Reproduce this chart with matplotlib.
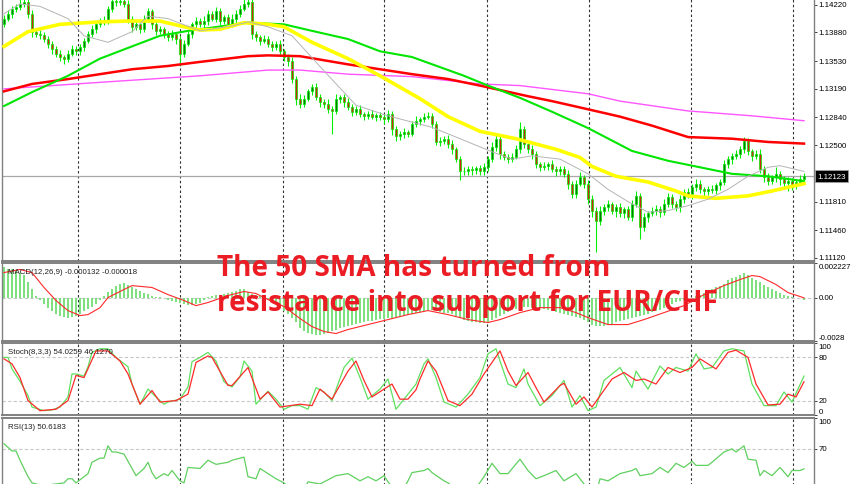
import numpy as np
import matplotlib
matplotlib.use("Agg")
import matplotlib.pyplot as plt

# ---------------- data (one candle per bar, 201 bars) ----------------
closes = [
    1.1405, 1.1411, 1.1417, 1.1419, 1.1423, 1.1425, 1.1411, 1.1389, 1.1386, 1.1385,
    1.1380, 1.1374, 1.1368, 1.1362, 1.1358, 1.1356, 1.1362, 1.1368, 1.1365, 1.1370,
    1.1378, 1.1386, 1.1392, 1.1398, 1.1402, 1.1401, 1.1417, 1.1427, 1.1425, 1.1427,
    1.1423, 1.1405, 1.1395, 1.1398, 1.1392, 1.1405, 1.1414, 1.1398, 1.1390, 1.1392,
    1.1386, 1.1382, 1.1386, 1.1380, 1.1362, 1.1374, 1.1386, 1.1398, 1.1402, 1.1398,
    1.1402, 1.1411, 1.1405, 1.1414, 1.1402, 1.1407, 1.1398, 1.1405, 1.1411, 1.1417,
    1.1423, 1.1425, 1.1386, 1.1382, 1.1378, 1.1380, 1.1374, 1.1370, 1.1374, 1.1365,
    1.1358, 1.1353, 1.1331, 1.1307, 1.1301, 1.1307, 1.1316, 1.1321, 1.1309, 1.1303,
    1.1301, 1.1294, 1.1292, 1.1307, 1.1309, 1.1303, 1.1297, 1.1291, 1.1294, 1.1288,
    1.1286, 1.1288, 1.1285, 1.1287, 1.1285, 1.1282, 1.1288, 1.1270, 1.1261, 1.1264,
    1.1266, 1.1264, 1.1276, 1.1280, 1.1282, 1.1285, 1.1286, 1.1276, 1.1254, 1.1255,
    1.1258, 1.1252, 1.1245, 1.1233, 1.1218, 1.1218, 1.1221, 1.1220, 1.1222, 1.1218,
    1.1223, 1.1233, 1.1248, 1.1258, 1.1239, 1.1236, 1.1233, 1.1236, 1.1245, 1.1270,
    1.1252, 1.1245, 1.1239, 1.1227, 1.1223, 1.1225, 1.1227, 1.1221, 1.1218, 1.1221,
    1.1215, 1.1203, 1.1190, 1.1203, 1.1211, 1.1203, 1.1184, 1.1170, 1.1157, 1.1170,
    1.1174, 1.1178, 1.1170, 1.1174, 1.1167, 1.1172, 1.1162, 1.1178, 1.1188, 1.1150,
    1.1162, 1.1167, 1.1170, 1.1172, 1.1168, 1.1178, 1.1187, 1.1178, 1.1174, 1.1184,
    1.1193, 1.1190, 1.1199, 1.1203, 1.1196, 1.1194, 1.1196, 1.1195, 1.1201, 1.1205,
    1.1227, 1.1233, 1.1237, 1.1239, 1.1245, 1.1255, 1.1243, 1.1237, 1.1239, 1.1221,
    1.1211, 1.1206, 1.1211, 1.1215, 1.1209, 1.1204, 1.1206, 1.1201, 1.1205, 1.1209,
    1.12123,
]
first_open = 1.1399

# wick lengths in pips beyond the candle body
upper_wick_pips = [
    4, 5, 3, 4, 6, 8, 5, 4, 3, 5,   3, 4, 3, 4, 5, 3, 4, 5, 3, 4,
    3, 4, 5, 3, 4, 6, 4, 8, 5, 6,   4, 5, 3, 4, 6, 5, 4, 3, 5, 4,
    3, 4, 5, 3, 4, 5, 4, 3, 5, 4,   6, 4, 3, 5, 4, 3, 4, 6, 4, 5,
    6, 8, 5, 4, 3, 5, 4, 3, 4, 5,   3, 4, 5, 4, 6, 5, 3, 4, 5, 4,
    3, 5, 4, 6, 3, 4, 5, 3, 4, 5,   3, 4, 5, 3, 4, 3, 5, 4, 3, 4,
    5, 3, 4, 6, 3, 4, 5, 3, 4, 5,   3, 4, 5, 3, 4, 5, 3, 4, 3, 4,
    5, 4, 6, 4, 3, 4, 3, 4, 5, 9,   4, 3, 5, 4, 3, 4, 3, 5, 4, 3,
    4, 5, 3, 4, 6, 3, 4, 5, 4, 6,   4, 5, 3, 4, 5, 3, 4, 5, 6, 4,
    5, 3, 4, 5, 4, 6, 5, 3, 4, 5,   4, 5, 3, 6, 4, 3, 4, 5, 3, 4,
    5, 4, 3, 5, 4, 5, 4, 3, 5, 6,   4, 5, 3, 8, 4, 3, 5, 4, 3, 4,
    4,
]
lower_wick_pips = [
    4, 3, 5, 4, 3, 4, 5, 6, 4, 5,   4, 5, 6, 4, 5, 6, 4, 3, 5, 4,
    5, 3, 4, 5, 3, 4, 3, 4, 5, 3,   4, 5, 6, 4, 5, 3, 4, 6, 5, 4,
    5, 4, 3, 6, 15, 4, 3, 5, 4, 3,  4, 5, 3, 4, 5, 3, 4, 3, 5, 4,
    3, 4, 6, 4, 5, 3, 4, 5, 4, 6,   5, 6, 5, 8, 5, 4, 3, 5, 4, 6,
    5, 4, 28, 4, 5, 6, 4, 5, 4, 3,  5, 4, 3, 5, 4, 6, 4, 8, 6, 4,
    5, 4, 3, 4, 5, 4, 3, 5, 4, 5,   4, 5, 6, 4, 10, 5, 4, 6, 5, 4,
    5, 4, 3, 5, 6, 4, 5, 4, 3, 4,   5, 4, 6, 5, 4, 3, 5, 4, 6, 5,
    4, 6, 5, 4, 3, 5, 6, 8, 38, 5,  6, 5, 4, 8, 5, 6, 4, 5, 3, 15,
    5, 6, 4, 5, 6, 4, 3, 5, 4, 6,   5, 4, 6, 5, 4, 6, 5, 4, 5, 6,
    4, 5, 6, 4, 5, 4, 5, 6, 4, 5,   6, 5, 4, 6, 8, 5, 10, 6, 5, 4,
    4,
]

# moving averages, points (bar index, price)
sma20_bars = [0, 4, 9, 16, 20, 26, 32, 36, 41, 49, 57, 61, 66, 72, 80, 88, 96, 107, 116, 122,
              127, 132, 139, 146, 151, 156, 161, 166, 171, 176, 181, 186, 191, 194, 200]
sma20 = [1.1411, 1.1423, 1.1420, 1.1405, 1.1384, 1.1376, 1.1389, 1.1408, 1.1405, 1.1390,
         1.1396, 1.1401, 1.1395, 1.1384, 1.1341, 1.1299, 1.1286, 1.1272, 1.1254, 1.1242,
         1.1233, 1.1237, 1.1233, 1.1215, 1.1196, 1.1181, 1.1168, 1.1170, 1.1176, 1.1184,
         1.1196, 1.1212, 1.1223, 1.1225, 1.1218]
sma50_bars = [0, 6, 14, 24, 31, 39, 45, 49, 54, 60, 66, 70, 77, 86, 94, 104, 111, 119, 128, 138,
              144, 147, 153, 161, 168, 171, 178, 186, 192, 200]
sma50 = [1.1371, 1.1389, 1.1398, 1.1401, 1.1402, 1.1402, 1.1395, 1.1391, 1.1392, 1.1400,
         1.1398, 1.1395, 1.1376, 1.1356, 1.1335, 1.1307, 1.1285, 1.1267, 1.1258, 1.1245,
         1.1235, 1.1224, 1.1212, 1.1205, 1.1194, 1.1188, 1.1185, 1.1188, 1.1194, 1.1203]
sma100_bars = [0, 7, 16, 24, 32, 39, 46, 52, 61, 70, 77, 86, 94, 102, 115, 121, 129, 137, 146, 157,
               166, 174, 182, 191, 200]
sma100 = [1.1298, 1.1315, 1.1335, 1.1356, 1.1371, 1.1384, 1.1390, 1.1394, 1.1400, 1.1398,
          1.1390, 1.1380, 1.1365, 1.1358, 1.1335, 1.1323, 1.1308, 1.1291, 1.1271, 1.1243,
          1.1231, 1.1223, 1.1215, 1.1212, 1.1206]
sma200_bars = [0, 7, 16, 24, 32, 41, 49, 61, 66, 74, 86, 94, 102, 111, 119, 131, 137, 146, 154, 162,
               171, 182, 191, 200]
sma200 = [1.1316, 1.1325, 1.1331, 1.1337, 1.1343, 1.1347, 1.1352, 1.1359, 1.1360, 1.1359,
          1.1349, 1.1343, 1.1337, 1.1331, 1.1323, 1.1310, 1.1304, 1.1294, 1.1285, 1.1274,
          1.1260, 1.1258, 1.1254, 1.1252]
ema200_bars = [0, 24, 49, 66, 74, 86, 102, 119, 129, 146, 154, 171, 187, 200]
ema200 = [1.1319, 1.1327, 1.1335, 1.1342, 1.1342, 1.1337, 1.1334, 1.1325, 1.1323, 1.1313,
          1.1304, 1.1292, 1.1286, 1.1280]

# MACD(12,26,9): main line per bar (x 1e-3) and signal line points
macd_main = [
    1.94, 1.87, 1.81, 1.74, 1.61, 1.48, 1.03, 0.58, 0.13, -0.13,
    -0.39, -0.65, -0.84, -1.03, -1.16, -1.23, -1.29, -1.23, -1.16, -1.03,
    -0.84, -0.71, -0.58, -0.39, -0.13, 0.13, 0.39, 0.58, 0.77, 0.90,
    0.97, 0.84, 0.71, 0.58, 0.45, 0.32, 0.26, 0.13, 0.06, 0.06,
    0.00, -0.13, -0.19, -0.26, -0.32, -0.39, -0.45, -0.45, -0.39, -0.32,
    -0.13, 0.06, 0.13, 0.19, 0.19, 0.26, 0.32, 0.39, 0.45, 0.52,
    0.52, 0.39, 0.26, 0.19, 0.13, 0.00, -0.13, -0.26, -0.45, -0.65,
    -0.84, -1.03, -1.29, -1.55, -1.94, -2.13, -2.26, -2.32, -2.39, -2.39,
    -2.32, -2.26, -2.13, -2.06, -1.94, -1.87, -1.81, -1.74, -1.68, -1.61,
    -1.55, -1.48, -1.48, -1.42, -1.35, -1.35, -1.29, -1.29, -1.23, -1.16,
    -1.16, -1.10, -1.03, -0.97, -0.90, -0.84, -0.77, -0.77, -0.84, -0.90,
    -0.97, -0.97, -1.03, -1.16, -1.29, -1.42, -1.48, -1.55, -1.55, -1.61,
    -1.61, -1.55, -1.42, -1.29, -1.16, -1.03, -0.90, -0.77, -0.71, -0.65,
    -0.58, -0.58, -0.65, -0.65, -0.65, -0.71, -0.77, -0.84, -0.90, -0.97,
    -1.03, -1.10, -1.16, -1.23, -1.29, -1.42, -1.55, -1.74, -1.81, -1.81,
    -1.81, -1.74, -1.68, -1.55, -1.48, -1.42, -1.35, -1.29, -1.23, -1.16,
    -1.10, -1.03, -0.90, -0.84, -0.77, -0.65, -0.52, -0.39, -0.26, -0.19,
    -0.13, -0.06, 0.00, 0.13, 0.19, 0.32, 0.45, 0.58, 0.71, 0.77,
    0.90, 1.10, 1.23, 1.35, 1.48, 1.61, 1.48, 1.29, 1.16, 1.03,
    0.84, 0.71, 0.58, 0.45, 0.32, 0.19, 0.13, 0.06, 0.00, -0.06,
    -0.132,
]
macd_signal_bars = [0, 4, 7, 10, 13, 16, 19, 21, 24, 26, 30, 32, 37, 41, 45, 48, 51, 56, 60, 63,
                    66, 70, 74, 77, 80, 83, 86, 91, 96, 101, 106, 111, 116, 121, 124, 129, 134, 139,
                    143, 146, 151, 156, 160, 165, 170, 175, 180, 184, 187, 189, 193, 196, 200]
macd_signal = [1.61, 1.81, 1.61, 0.65, -0.19, -0.84, -1.16, -1.10, -0.65, 0.00, 0.52, 0.77, 0.65,
               0.19, -0.19, -0.52, -0.32, 0.13, 0.39, 0.26, -0.13, -0.58, -1.35, -1.87, -2.19,
               -2.32, -2.06, -1.74, -1.42, -1.10, -0.84, -1.10, -1.42, -1.61, -1.42, -0.97, -0.65,
               -0.65, -0.97, -1.29, -1.74, -1.74, -1.42, -0.97, -0.52, 0.19, 0.77, 1.16, 1.42,
               1.35, 0.84, 0.32, -0.018]

# Stochastic(8,3,3) points (bar, value)
stoch_k_bars = [0, 1, 2, 4, 6, 7, 10, 12, 14, 16, 17, 18, 20, 21, 22, 24, 26, 28, 31, 32, 34, 35,
                36, 38, 40, 41, 44, 46, 47, 49, 51, 53, 55, 57, 59, 60, 62, 63, 66, 68, 70, 72,
                74, 76, 78, 80, 82, 85, 87, 89, 91, 94, 96, 98, 101, 103, 105, 106, 108, 110, 113,
                116, 119, 121, 123, 124, 126, 128, 130, 131, 134, 137, 140, 142, 144, 146, 148,
                150, 154, 157, 158, 161, 164, 166, 168, 171, 173, 175, 177, 180, 182, 185, 187,
                190, 193, 195, 197, 200]
stoch_k = [80, 80, 64, 47, 27, 11, 6, 7, 11, 25, 57, 57, 54, 67, 87, 92, 92, 80, 67, 43, 15, 25,
           36, 25, 15, 18, 22, 39, 74, 80, 87, 75, 46, 39, 53, 75, 61, 15, 33, 22, 8, 13,
           13, 8, 38, 32, 20, 66, 79, 52, 22, 36, 50, 8, 29, 43, 71, 78, 52, 18, 11,
           29, 52, 85, 92, 75, 43, 38, 64, 43, 13, 27, 48, 11, 27, 6, 11,
           48, 66, 38, 61, 36, 68, 57, 66, 61, 85, 64, 66, 89, 92, 89, 43,
           13, 13, 32, 18, 54.03]
stoch_d_bars = [0, 2, 4, 6, 9, 13, 16, 18, 20, 23, 26, 29, 31, 34, 37, 39, 43, 46, 48, 51, 52, 56,
                57, 61, 64, 66, 69, 74, 77, 79, 82, 86, 88, 90, 92, 95, 97, 99, 101, 103, 104,
                106, 108, 111, 114, 117, 120, 124, 126, 128, 131, 133, 135, 139, 140, 143, 145,
                147, 152, 155, 158, 160, 163, 166, 169, 172, 174, 178, 181, 183, 186, 188, 191,
                194, 196, 198, 200]
stoch_d = [78, 71, 52, 20, 6, 8, 20, 55, 52, 89, 89, 75, 57, 15, 34, 18, 20, 29, 73, 82, 80, 41,
           41, 66, 22, 32, 11, 15, 13, 36, 22, 61, 75, 48, 25, 36, 43, 22, 22, 35, 50,
           75, 61, 20, 13, 29, 57, 89, 61, 41, 59, 38, 18, 41, 44, 15, 25,
           11, 50, 59, 48, 50, 43, 66, 59, 66, 78, 64, 87, 90, 80, 43, 14,
           15, 29, 25, 46.13]

# RSI(13) points (bar, value)
rsi_bars = [0, 2, 3, 4, 6, 7, 9, 11, 13, 15, 16, 17, 18, 21, 22, 24, 25, 26, 27, 28, 30, 32, 33,
            35, 36, 37, 38, 40, 41, 42, 44, 45, 46, 49, 51, 53, 56, 57, 60, 61, 63, 64, 66, 68,
            70, 71, 72, 73, 74, 75, 76, 79, 80, 83, 86, 89, 91, 93, 95, 96, 97, 98, 100, 101,
            102, 105, 106, 107, 110, 111, 112, 113, 114, 116, 118, 120, 122, 124, 126, 129, 131,
            133, 135, 138, 140, 143, 145, 146, 147, 148, 149, 151, 154, 157, 158, 159, 162, 164,
            166, 168, 170, 172, 173, 176, 177, 180, 182, 183, 185, 186, 188, 189, 190, 192, 194,
            196, 197, 199, 200]
rsi = [75, 68, 68, 59, 43, 37, 35, 35, 36, 37, 41, 41, 37, 46, 57, 61, 61, 73, 67, 67, 65, 51, 44,
       51, 57, 47, 41, 46, 44, 49, 39, 37, 52, 51, 59, 55, 57, 59, 62, 43, 41, 51, 46, 41,
       37, 33, 28, 24, 27, 31, 38, 36, 38, 44, 46, 39, 43, 39, 44, 38, 33, 30, 32, 39,
       47, 49, 51, 47, 39, 37, 34, 30, 26, 30, 32, 43, 56, 46, 46, 60, 49,
       41, 44, 49, 39, 46, 36, 31, 28, 26, 41, 39, 46, 49, 51, 44, 46, 52,
       47, 56, 52, 58, 54, 54, 57, 67, 70, 67, 73, 60, 59, 44, 49, 44, 52,
       43, 49, 49, 50.62]

price_ticks = [1.14220, 1.13880, 1.13530, 1.13190, 1.12840, 1.12500, 1.11810, 1.11460, 1.11120]

# --------------------------- layout (pixel based, 852 x 485) ---------------------------
W, H = 852, 485
X0, X1 = 2, 814
grid_bars = [18.4, 44.0, 69.7, 95.1, 120.7, 146.2, 171.7, 197.2]
FRAME = '#808080'
LABEL_SIZE = 5.7


def panel(fig, top, bottom):
    ax = fig.add_axes([X0 / W, (H - bottom) / H, (X1 - X0) / W, (bottom - top) / H])
    ax.set_facecolor('white')
    ax.set_xlim(-0.5, 202.5)
    ax.set_xticks([])
    for side in ['top', 'bottom', 'left', 'right']:
        ax.spines[side].set_color(FRAME)
        ax.spines[side].set_linewidth(1.4 if side in ('top', 'bottom') else 1.0)
    ax.yaxis.tick_right()
    ax.tick_params(axis='y', length=2.5, width=0.7, color='#404040', pad=1.0)
    for gx in grid_bars:
        ax.axvline(gx, color='#303030', lw=0.8, ls=(0, (2.2, 2.2)), zorder=1)
    return ax


def label_ticks(ax, ticks, labels, edge_va):
    ax.set_yticks(ticks)
    ax.set_yticklabels(labels, fontfamily='Liberation Sans', fontsize=LABEL_SIZE)
    for t, va in zip(ax.get_yticklabels(), edge_va):
        t.set_verticalalignment(va)


def main():
    fig = plt.figure(figsize=(W / 100, H / 100), dpi=100)
    fig.patch.set_facecolor('white')

    # ---------------- main price panel ----------------
    ax = panel(fig, 0, 262)
    ax.set_ylim(1.11083, 1.14290)
    idx = np.arange(len(closes))
    c = np.array(closes)
    o = np.r_[first_open, c[:-1]]
    hi = np.maximum(o, c) + np.array(upper_wick_pips) * 1e-4
    lo = np.minimum(o, c) - np.array(lower_wick_pips) * 1e-4
    bull = c >= o
    ax.axhline(closes[-1], color='#a8a8a8', lw=0.9, zorder=1)
    ax.vlines(idx, lo, hi, color='#00ee00', lw=0.8, zorder=2)
    body = np.maximum(np.abs(c - o), 0.00006)
    ax.bar(idx, body, bottom=np.minimum(o, c), width=0.62,
           color=np.where(bull, '#087a08', '#c82a10'), edgecolor='#00ee00', linewidth=0.5, zorder=3)

    ax.plot(ema200_bars, ema200, color='#ff55ff', lw=1.0, zorder=4)
    ax.plot(sma200_bars, sma200, color='#ff0000', lw=1.8, zorder=4)
    ax.plot(sma100_bars, sma100, color='#00e600', lw=1.5, zorder=4)
    ax.plot(sma50_bars, sma50, color='#ffff00', lw=2.6, zorder=4)
    ax.plot(sma20_bars, sma20, color='#b4b4b4', lw=0.7, zorder=4)

    label_ticks(ax, price_ticks, [f'{p:.5f}' for p in price_ticks], ['center'] * len(price_ticks))
    ax.annotate(f'{closes[-1]:.5f}', xy=(1.0, closes[-1]), xycoords=('axes fraction', 'data'),
                xytext=(2.5, 0), textcoords='offset points', va='center', ha='left',
                color='white', fontfamily='Liberation Sans', fontsize=LABEL_SIZE,
                bbox=dict(boxstyle='square,pad=0.3', fc='black', ec='#a0a0a0', lw=0.6))

    # ---------------- MACD ----------------
    ax2 = panel(fig, 264, 342)
    ax2.set_ylim(-0.0028, 0.002227)
    ax2.axhline(0, color='#c8c8c8', lw=0.8, ls=(0, (3, 2)), zorder=1)
    ax2.bar(idx, np.array(macd_main) * 1e-3, width=0.28, color='#7fe07f', zorder=2)
    ax2.plot(macd_signal_bars, np.array(macd_signal) * 1e-3, color='#ff2a2a', lw=0.8, zorder=3)
    label_ticks(ax2, [-0.0028, 0.0, 0.002227], ['-0.0028', '0.00', '0.002227'],
                ['bottom', 'center', 'top'])
    ax2.text(0.007, 0.93, 'MACD(12,26,9) -0.000132 -0.000018', transform=ax2.transAxes,
             va='top', ha='left', color='#202020', fontfamily='Liberation Sans', fontsize=LABEL_SIZE)

    # ---------------- Stochastic ----------------
    ax3 = panel(fig, 344, 416)
    ax3.set_ylim(0, 100)
    for lvl in (20, 80):
        ax3.axhline(lvl, color='#c8c8c8', lw=0.8, ls=(0, (3, 2)), zorder=1)
    ax3.plot(stoch_k_bars, stoch_k, color='#5fe05f', lw=0.9, zorder=3)
    ax3.plot(stoch_d_bars, stoch_d, color='#ff2a2a', lw=0.9, zorder=3)
    label_ticks(ax3, [0, 20, 80, 100], ['0', '20', '80', '100'],
                ['bottom', 'center', 'center', 'top'])
    ax3.text(0.007, 0.93, 'Stoch(8,3,3) 54.0259 46.1270', transform=ax3.transAxes,
             va='top', ha='left', color='#202020', fontfamily='Liberation Sans', fontsize=LABEL_SIZE)

    # ---------------- RSI (bottom part is cut off by the image edge) ----------------
    ax4 = panel(fig, 419, 522)
    ax4.set_ylim(0, 100)
    for lvl in (30, 70):
        ax4.axhline(lvl, color='#c8c8c8', lw=0.8, ls=(0, (3, 2)), zorder=1)
    ax4.plot(rsi_bars, rsi, color='#5fd05f', lw=0.9, zorder=3)
    label_ticks(ax4, [70, 100], ['70', '100'], ['center', 'top'])
    ax4.text(0.007, 0.955, 'RSI(13) 50.6183', transform=ax4.transAxes,
             va='top', ha='left', color='#202020', fontfamily='Liberation Sans', fontsize=LABEL_SIZE)

    # ---------------- headline ----------------
    red = '#ec1c24'
    fig.text(217 / W, 1 - 268 / H, 'The 50 SMA has turned from', color=red,
             fontfamily='Open Sans', fontweight='bold', fontsize=20.2, va='center', ha='left', zorder=10)
    fig.text(217 / W, 1 - 304 / H, 'resistance into support for EUR/CHF', color=red,
             fontfamily='Open Sans', fontweight='bold', fontsize=20.2, va='center', ha='left', zorder=10)

    fig.savefig('out.png', dpi=100)
    plt.close(fig)


if __name__ == '__main__':
    main()
